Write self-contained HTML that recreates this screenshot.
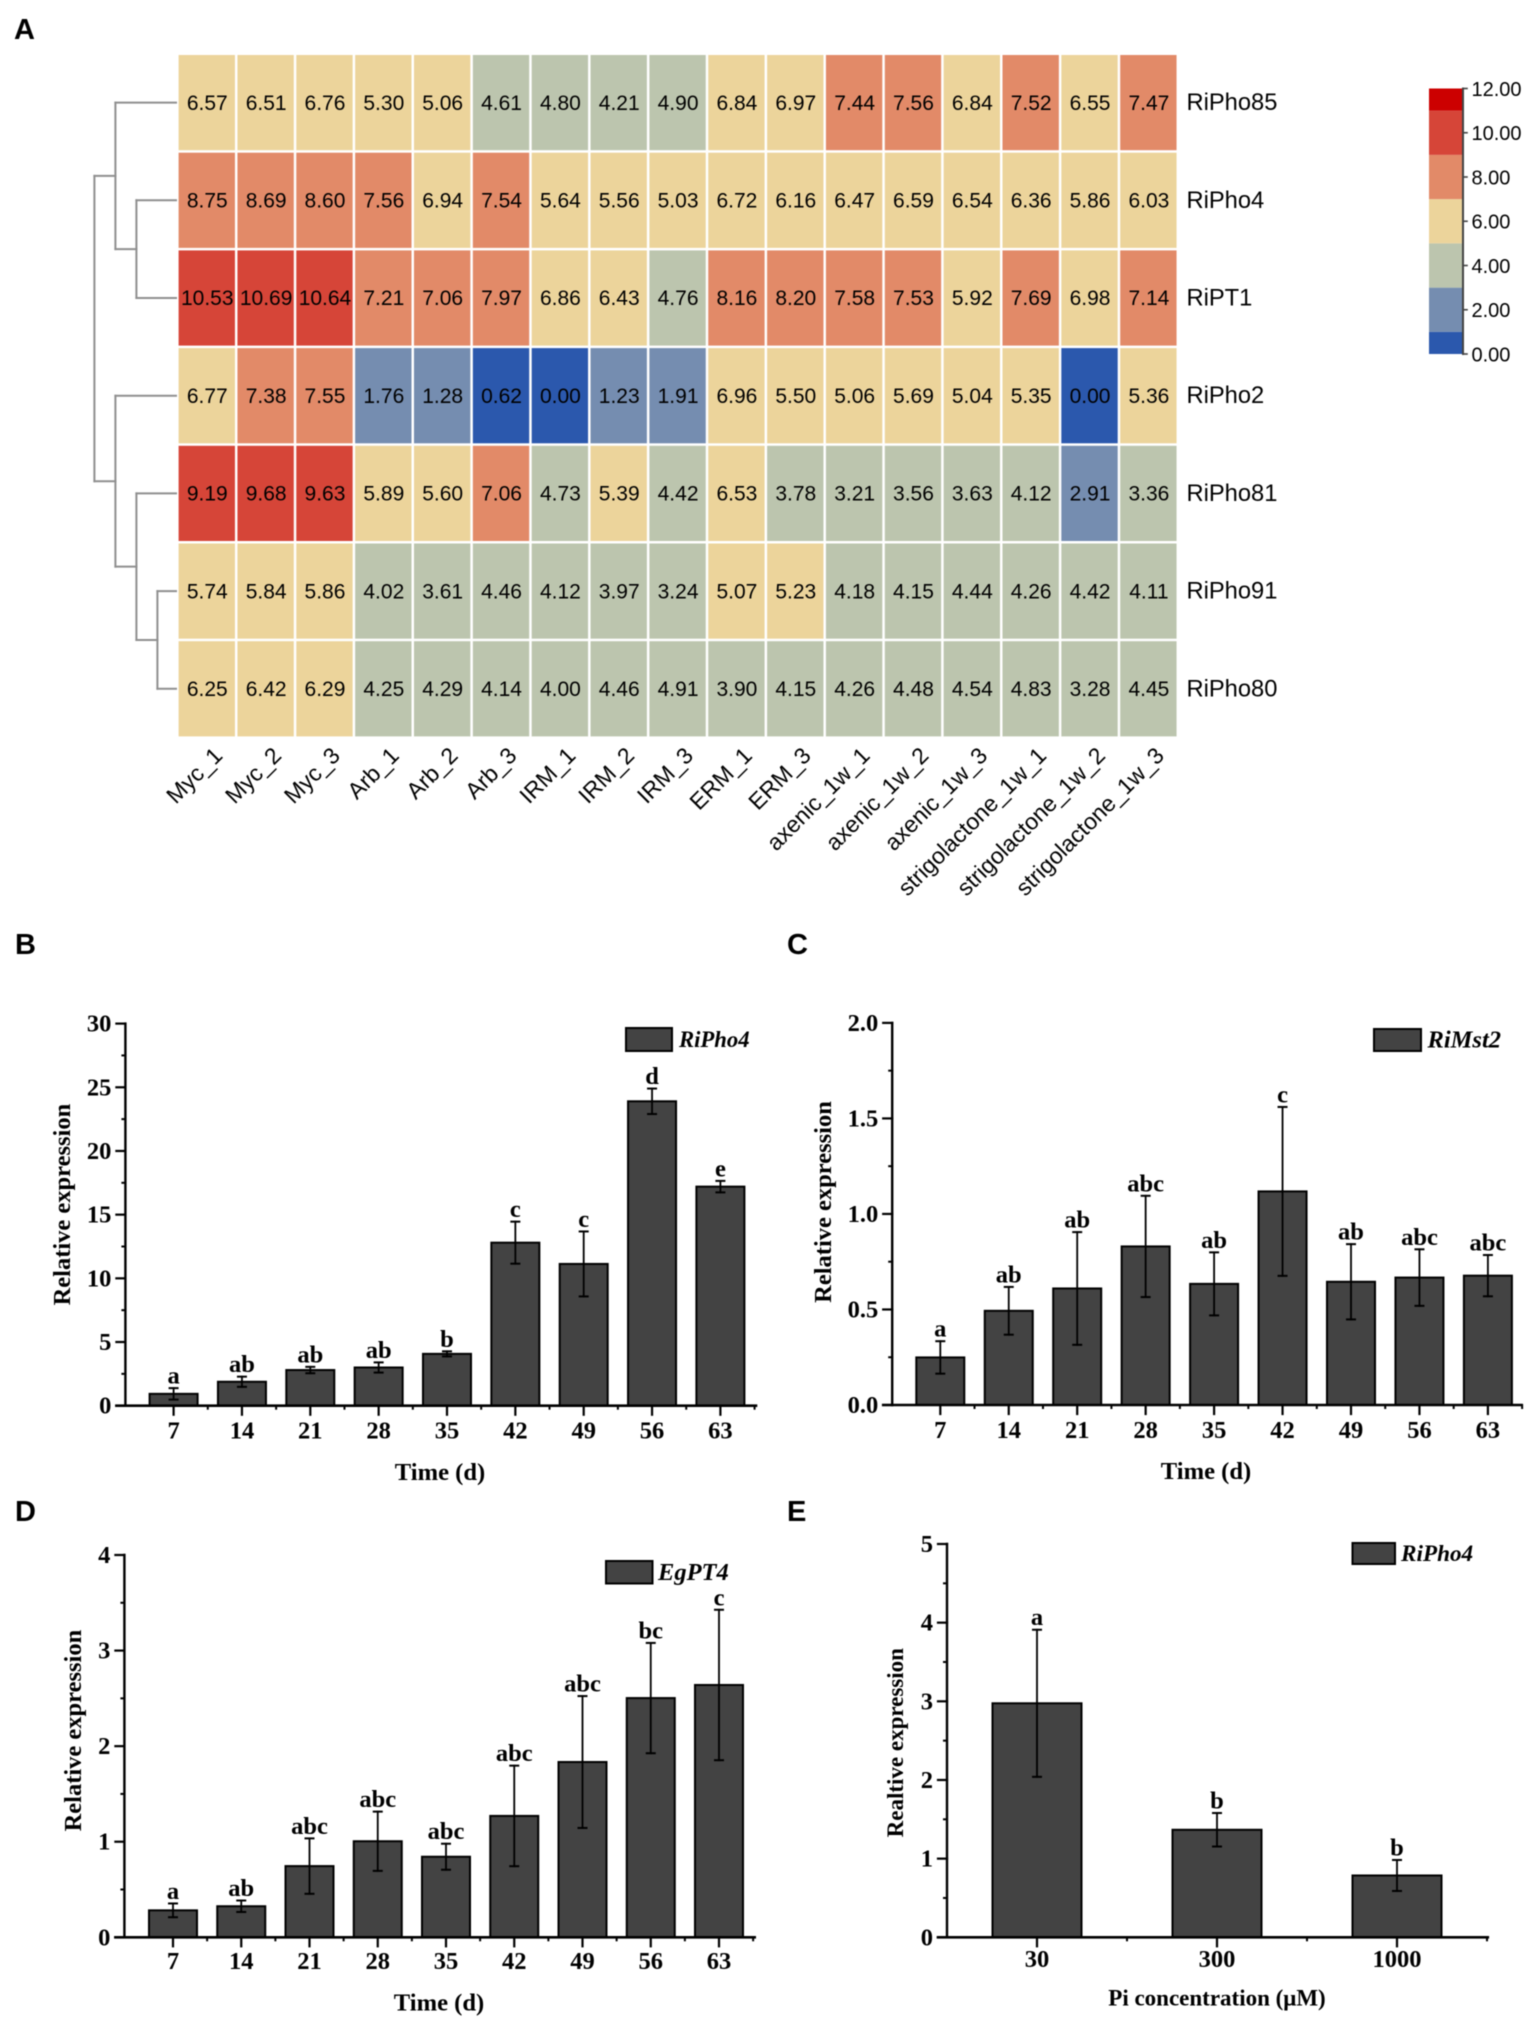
<!DOCTYPE html>
<html lang="en">
<head>
<meta charset="utf-8">
<title>Expression heatmap and relative expression bar charts</title>
<style>
html,body{margin:0;padding:0;background:#fff;width:1535px;height:2022px;overflow:hidden}
svg{display:block;filter:blur(.45px)}
.sans{font-family:"Liberation Sans",sans-serif}
.serif{font-family:"Liberation Serif",serif;font-weight:bold}
</style>
</head>
<body>
<svg id="figure" xmlns="http://www.w3.org/2000/svg" width="1535" height="2022" viewBox="0 0 1535 2022"></svg>
<script>
/* ---------- heatmap data ---------- */
const heatColumns = ["Myc_1","Myc_2","Myc_3","Arb_1","Arb_2","Arb_3","IRM_1","IRM_2","IRM_3","ERM_1","ERM_3","axenic_1w_1","axenic_1w_2","axenic_1w_3","strigolactone_1w_1","strigolactone_1w_2","strigolactone_1w_3"];
const heatRows = ["RiPho85","RiPho4","RiPT1","RiPho2","RiPho81","RiPho91","RiPho80"];
const riPho85Values = [6.57,6.51,6.76,5.30,5.06,4.61,4.80,4.21,4.90,6.84,6.97,7.44,7.56,6.84,7.52,6.55,7.47];
const riPho4Values  = [8.75,8.69,8.60,7.56,6.94,7.54,5.64,5.56,5.03,6.72,6.16,6.47,6.59,6.54,6.36,5.86,6.03];
const riPT1Values   = [10.53,10.69,10.64,7.21,7.06,7.97,6.86,6.43,4.76,8.16,8.20,7.58,7.53,5.92,7.69,6.98,7.14];
const riPho2Values  = [6.77,7.38,7.55,1.76,1.28,0.62,0.00,1.23,1.91,6.96,5.50,5.06,5.69,5.04,5.35,0.00,5.36];
const riPho81Values = [9.19,9.68,9.63,5.89,5.60,7.06,4.73,5.39,4.42,6.53,3.78,3.21,3.56,3.63,4.12,2.91,3.36];
const riPho91Values = [5.74,5.84,5.86,4.02,3.61,4.46,4.12,3.97,3.24,5.07,5.23,4.18,4.15,4.44,4.26,4.42,4.11];
const riPho80Values = [6.25,6.42,6.29,4.25,4.29,4.14,4.00,4.46,4.91,3.90,4.15,4.26,4.48,4.54,4.83,3.28,4.45];
const heatMatrix = [riPho85Values,riPho4Values,riPT1Values,riPho2Values,riPho81Values,riPho91Values,riPho80Values];
const colorBinEdges = [0,1,3,5,7,9,11,12];
const colorBinFills = ["#2b58ad","#758db0","#bcc5ae","#ecd49b","#e28a68","#d64538","#cc0000"];
const colorTickValues = [0,2,4,6,8,10,12];
const dendrogramTree = [[0,[1,2]],[3,[4,[5,6]]]];

/* ---------- panel B: RiPho4 time course ---------- */
const bCategories = ["7","14","21","28","35","42","49","56","63"];
const bValues = [0.93,1.88,2.8,3.0,4.07,12.8,11.13,23.9,17.2];
const bErrors = [0.45,0.4,0.25,0.4,0.2,1.65,2.55,1.0,0.45];
const bLetters = ["a","ab","ab","ab","b","c","c","d","e"];
const bTicks = [0,5,10,15,20,25,30];
const bTickLabels = ["0","5","10","15","20","25","30"];

/* ---------- panel C: RiMst2 time course ---------- */
const cCategories = ["7","14","21","28","35","42","49","56","63"];
const cValues = [0.249,0.493,0.61,0.83,0.634,1.118,0.645,0.667,0.677];
const cErrors = [0.085,0.125,0.295,0.265,0.165,0.442,0.197,0.148,0.108];
const cLetters = ["a","ab","ab","abc","ab","c","ab","abc","abc"];
const cTicks = [0,0.5,1,1.5,2];
const cTickLabels = ["0.0","0.5","1.0","1.5","2.0"];

/* ---------- panel D: EgPT4 time course ---------- */
const dCategories = ["7","14","21","28","35","42","49","56","63"];
const dValues = [0.282,0.325,0.745,1.005,0.843,1.27,1.834,2.503,2.64];
const dErrors = [0.072,0.06,0.29,0.31,0.136,0.526,0.69,0.577,0.787];
const dLetters = ["a","ab","abc","abc","abc","abc","abc","bc","c"];
const dTicks = [0,1,2,3,4];
const dTickLabels = ["0","1","2","3","4"];

/* ---------- panel E: RiPho4 vs Pi concentration ---------- */
const eCategories = ["30","300","1000"];
const eValues = [2.975,1.367,0.786];
const eErrors = [0.935,0.213,0.197];
const eLetters = ["a","b","b"];
const eTicks = [0,1,2,3,4,5];
const eTickLabels = ["0","1","2","3","4","5"];

/* ---------- helpers ---------- */
const SVGNS = "http://www.w3.org/2000/svg";
const root = document.getElementById("figure");
function mk(tag, attrs, parent, text) {
  const el = document.createElementNS(SVGNS, tag);
  for (const k in attrs) el.setAttribute(k, attrs[k]);
  if (text !== undefined) el.textContent = text;
  (parent || root).appendChild(el);
  return el;
}
function segment(parent, x1, y1, x2, y2, stroke, width) {
  return mk("line", {x1:x1, y1:y1, x2:x2, y2:y2, stroke:stroke, "stroke-width":width, "stroke-linecap":"square"}, parent);
}

/* ---------- panel letters ---------- */
function panelLetter(letter, x, y) {
  const t = mk("text", {x:x, y:y, class:"sans", "font-size":29, "font-weight":"bold", fill:"#000"}, root, letter);
  
  
}
panelLetter("A", 14, 39);
panelLetter("B", 15, 954);
panelLetter("C", 787, 954);
panelLetter("D", 15, 1521);
panelLetter("E", 787, 1521);

/* ---------- heatmap ---------- */
const heatLeft = 178.6, heatTop = 55, colStep = 58.85, rowStep = 97.7, cellGap = 2.5;
function colX(i) { return heatLeft + i * colStep; }
function rowY(j) { return heatTop + j * rowStep; }
function colCenter(i) { return colX(i) + (colStep - cellGap) / 2; }
function rowCenter(j) { return rowY(j) + (rowStep - cellGap) / 2; }
function binFill(v) {
  for (let b = 0; b < colorBinFills.length; b++) {
    if (v < colorBinEdges[b + 1]) return colorBinFills[b];
  }
  return colorBinFills[colorBinFills.length - 1];
}

const heatGroup = mk("g", {});



heatMatrix.forEach(function (row, j) {
  row.forEach(function (v, i) {
    const cell = mk("rect", {x:colX(i), y:rowY(j), width:colStep - cellGap, height:rowStep - cellGap, fill:binFill(v)}, heatGroup);
    
    
    const val = mk("text", {x:colCenter(i) + 0.5, y:rowCenter(j) + 7.2, "text-anchor":"middle", class:"sans", "font-size":21, fill:"#000"}, heatGroup, v.toFixed(2));
    
    
  });
  const lab = mk("text", {x:1186.5, y:rowCenter(j) + 7.5, class:"sans", "font-size":23.7, fill:"#000"}, heatGroup, heatRows[j]);
  
  
});

heatColumns.forEach(function (name, i) {
  const ax = colCenter(i) + 17, ay = 757;
  const lab = mk("text", {x:ax, y:ay, "text-anchor":"end", class:"sans", "font-size":23, fill:"#000", transform:"rotate(-45 " + ax + " " + ay + ")"}, heatGroup, name);
  
  
});

/* ---------- dendrogram (leaf y from rows, branch x from tree depth) ---------- */
const dendroGroup = mk("g", {});


const dendroRootX = 94.4, dendroLevel = 21, dendroLeafX = 176;
function drawDendro(node, depth) {
  const x = dendroRootX + depth * dendroLevel;
  if (typeof node === "number") return {y: rowCenter(node), x: dendroLeafX};
  const a = drawDendro(node[0], depth + 1);
  const b = drawDendro(node[1], depth + 1);
  segment(dendroGroup, x, a.y, x, b.y, "#8f8f8f", 2);
  segment(dendroGroup, x, a.y, a.x, a.y, "#8f8f8f", 2);
  segment(dendroGroup, x, b.y, b.x, b.y, "#8f8f8f", 2);
  return {y: (a.y + b.y) / 2, x: x};
}
drawDendro(dendrogramTree, 0);

/* ---------- colour legend ---------- */
const legendGroup = mk("g", {});


const legBottom = 354, legTop = 88.5, legMax = 12;
function legY(v) { return legBottom - (legBottom - legTop) * v / legMax; }
colorBinFills.forEach(function (fill, b) {
  const band = mk("rect", {x:1429, y:legY(colorBinEdges[b + 1]), width:33, height:legY(colorBinEdges[b]) - legY(colorBinEdges[b + 1]), fill:fill}, legendGroup);
  
  
});
segment(legendGroup, 1463, legTop, 1463, legBottom, "#444", 2);
colorTickValues.forEach(function (v) {
  segment(legendGroup, 1463, legY(v), 1467, legY(v), "#444", 1.6);
  const lab = mk("text", {x:1471.5, y:legY(v) + 7.3, class:"sans", "font-size":20, fill:"#000"}, legendGroup, v.toFixed(2));
  
  
});

/* ---------- bar panels ---------- */
function drawBarPanel(p) {
  const g = mk("g", {});
  
  
  function y(v) { return p.baseY - (p.baseY - p.topY) * v / p.yMax; }
  function x(i) { return p.center0 + i * p.step; }

  p.values.forEach(function (v, i) {
    const bar = mk("rect", {x:x(i) - p.barW / 2, y:y(v), width:p.barW, height:p.baseY - y(v), fill:"#434343", stroke:"#000", "stroke-width":2}, g);
    
    
  });
  p.values.forEach(function (v, i) {
    const e = p.errors[i];
    const eg = mk("g", {}, g);
    
    
    segment(eg, x(i), y(v + e), x(i), y(v - e), "#000", 1.8);
    segment(eg, x(i) - 4, y(v + e), x(i) + 4, y(v + e), "#000", 2);
    segment(eg, x(i) - 4, y(v - e), x(i) + 4, y(v - e), "#000", 2);
    const l = mk("text", {x:x(i), y:y(v + e) - 4.5, "text-anchor":"middle", class:"serif", "font-size":24.5, fill:"#000"}, g, p.letters[i]);
    
    
  });

  /* y axis */
  const yAxis = mk("g", {}, g);
  
  
  segment(yAxis, p.axisX, p.topY, p.axisX, p.baseY, "#000", 2.4);
  p.ticks.forEach(function (t, k) {
    segment(yAxis, p.axisX - 9, y(t), p.axisX, y(t), "#000", 2.2);
    if (k < p.ticks.length - 1) {
      const m = (t + p.ticks[k + 1]) / 2;
      segment(yAxis, p.axisX - 3, y(m), p.axisX, y(m), "#000", 2);
    }
    const lab = mk("text", {x:p.axisX - 14, y:y(t) + 8, "text-anchor":"end", class:"serif", "font-size":24.5, fill:"#000"}, yAxis, p.tickLabels[k]);
    
    
  });

  /* x axis */
  const xAxis = mk("g", {}, g);
  
  
  segment(xAxis, p.axisX - 9, p.baseY, p.axisEnd, p.baseY, "#000", 2.6);
  p.categories.forEach(function (c, i) {
    segment(xAxis, x(i), p.baseY, x(i), p.baseY + 9, "#000", 2.2);
    segment(xAxis, x(i) + p.step / 2, p.baseY, x(i) + p.step / 2, p.baseY + 3, "#000", 2);
    const lab = mk("text", {x:x(i), y:p.xLabelY, "text-anchor":"middle", class:"serif", "font-size":24.5, fill:"#000"}, xAxis, c);
    
    
  });

  /* titles */
  const xt = mk("text", {x:p.xTitleX, y:p.xTitleY, "text-anchor":"middle", class:"serif", "font-size":p.xTitleSize, fill:"#000"}, g, p.xTitle);
  
  
  const yt = mk("text", {x:0, y:0, "text-anchor":"middle", class:"serif", "font-size":p.yTitleSize, fill:"#000", transform:"translate(" + p.yTitleX + " " + p.yTitleY + ") rotate(-90)"}, g, p.yTitle);
  
  

  /* legend */
  const lg = mk("g", {}, g);
  
  
  const sw = mk("rect", {x:p.legX, y:p.legY, width:p.legW, height:p.legH, fill:"#434343", stroke:"#000", "stroke-width":2}, lg);
  
  
  const lt = mk("text", {x:p.legTextX, y:p.legY + p.legH / 2 + 7.5, class:"serif", "font-style":"italic", "font-size":p.legTextSize, fill:"#000"}, lg, p.legText);
  
  
}

drawBarPanel({name:"panel-b-ripho4-chart", categories:bCategories, values:bValues, errors:bErrors, letters:bLetters, ticks:bTicks, tickLabels:bTickLabels, yMax:30,
  baseY:1405.7, topY:1023.6, axisX:125.4, axisEnd:756, center0:173.6, step:68.35, barW:48,
  xLabelY:1438.6, xTitle:"Time (d)", xTitleX:440, xTitleY:1480, xTitleSize:24.6, yTitle:"Relative expression", yTitleX:70, yTitleY:1204.6, yTitleSize:24.5,
  legX:626, legY:1028, legW:46, legH:23, legTextX:679, legText:"RiPho4", legTextSize:22.7});

drawBarPanel({name:"panel-c-rimst2-chart", categories:cCategories, values:cValues, errors:cErrors, letters:cLetters, ticks:cTicks, tickLabels:cTickLabels, yMax:2,
  baseY:1405, topY:1022.9, axisX:892.2, axisEnd:1521.5, center0:940.3, step:68.45, barW:48,
  xLabelY:1438, xTitle:"Time (d)", xTitleX:1206, xTitleY:1479, xTitleSize:24.6, yTitle:"Relative expression", yTitleX:831, yTitleY:1202, yTitleSize:24.5,
  legX:1374, legY:1029, legW:47, legH:22, legTextX:1427.5, legText:"RiMst2", legTextSize:24.5});

drawBarPanel({name:"panel-d-egpt4-chart", categories:dCategories, values:dValues, errors:dErrors, letters:dLetters, ticks:dTicks, tickLabels:dTickLabels, yMax:4,
  baseY:1937.3, topY:1555, axisX:124.4, axisEnd:754.7, center0:173, step:68.25, barW:48,
  xLabelY:1969, xTitle:"Time (d)", xTitleX:439, xTitleY:2010.5, xTitleSize:24.6, yTitle:"Relative expression", yTitleX:81, yTitleY:1730.6, yTitleSize:24.5,
  legX:606, legY:1561, legW:46.5, legH:22.5, legTextX:658, legText:"EgPT4", legTextSize:24.5});

drawBarPanel({name:"panel-e-pi-concentration-chart", categories:eCategories, values:eValues, errors:eErrors, letters:eLetters, ticks:eTicks, tickLabels:eTickLabels, yMax:5,
  baseY:1937.3, topY:1544, axisX:947, axisEnd:1487.8, center0:1037, step:180, barW:89,
  xLabelY:1967, xTitle:"Pi concentration (μM)", xTitleX:1217, xTitleY:2005.4, xTitleSize:23, yTitle:"Realtive expression", yTitleX:903, yTitleY:1742.7, yTitleSize:23,
  legX:1352.5, legY:1543, legW:42.5, legH:21, legTextX:1401, legText:"RiPho4", legTextSize:23.2});
</script>
</body>
</html>
